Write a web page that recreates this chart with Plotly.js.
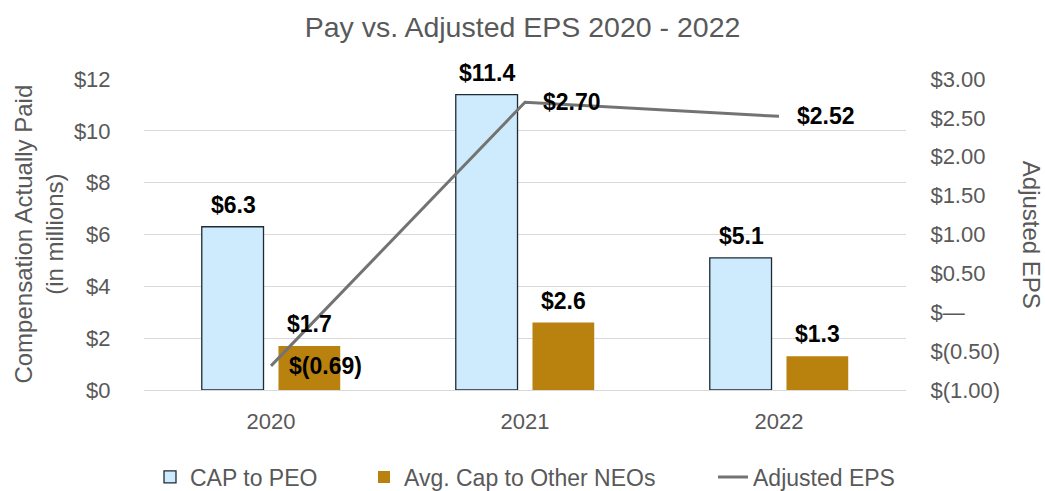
<!DOCTYPE html>
<html>
<head>
<meta charset="utf-8">
<script src="https://cdn.plot.ly/plotly-3.0.1.min.js"></script>
<style>html,body{margin:0;padding:0;background:#fff;}#chart{width:1045px;height:491px;}</style>
</head>
<body>
<div id="chart"></div>
<script>
const years = ["2020", "2021", "2022"];
const capToPEO = [6.3, 11.4, 5.1];
const avgCapOtherNEOs = [1.7, 2.6, 1.3];
const adjustedEPS = [-0.69, 2.70, 2.52];
const leftTickVals = [0, 2, 4, 6, 8, 10, 12];
const leftTickText = ["$0", "$2", "$4", "$6", "$8", "$10", "$12"];
const rightTickVals = [-1, -0.5, 0, 0.5, 1, 1.5, 2, 2.5, 3];
const rightTickText = ["$(1.00)", "$(0.50)", "$—", "$0.50", "$1.00", "$1.50", "$2.00", "$2.50", "$3.00"];

const FONT = "Liberation Sans, Arial, sans-serif";
const GRAY = "#595959";

function money1(v) { return "$" + v.toFixed(1); }
function moneyEPS(v) { return v < 0 ? "$(" + Math.abs(v).toFixed(2) + ")" : "$" + v.toFixed(2); }

const traces = [
  {
    type: "bar", name: "CAP to PEO", x: years, y: capToPEO, legend: "legend",
    marker: {color: "#CDEBFC", line: {color: "#1e2a36", width: 1.3}},
    hoverinfo: "skip"
  },
  {
    type: "bar", name: "Avg. Cap to Other NEOs", x: years, y: avgCapOtherNEOs, legend: "legend2",
    marker: {color: "#B9820F", line: {width: 0}},
    hoverinfo: "skip"
  },
  {
    type: "scatter", mode: "lines", name: "Adjusted EPS", x: years, y: adjustedEPS, legend: "legend3",
    yaxis: "y2", line: {color: "#737373", width: 3},
    hoverinfo: "skip"
  }
];

const annotations = [];
const labelFont = {family: FONT, size: 23, color: "#000"};
years.forEach((yr, i) => {
  annotations.push({x: i, y: capToPEO[i], xref: "x", yref: "y", text: "<b>" + money1(capToPEO[i]) + "</b>",
    showarrow: false, xshift: -38, yshift: 7, yanchor: "bottom", font: labelFont});
  annotations.push({x: i, y: avgCapOtherNEOs[i], xref: "x", yref: "y", text: "<b>" + money1(avgCapOtherNEOs[i]) + "</b>",
    showarrow: false, xshift: 38, yshift: 7, yanchor: "bottom", font: labelFont});
  annotations.push({x: i, y: adjustedEPS[i], xref: "x", yref: "y2", text: "<b>" + moneyEPS(adjustedEPS[i]) + "</b>",
    showarrow: false, xshift: 16, xanchor: "left", yanchor: "middle", font: labelFont});
});
annotations.push({xref: "paper", yref: "paper", x: -0.139, y: 0.5, xanchor: "center", yanchor: "middle",
  text: "Compensation Actually Paid<br>(in millions)", textangle: -90, showarrow: false,
  font: {family: FONT, size: 24, color: GRAY}});
annotations.push({xref: "paper", yref: "paper", x: 1.165, y: 0.5, xanchor: "center", yanchor: "middle",
  text: "Adjusted EPS", textangle: 90, showarrow: false,
  font: {family: FONT, size: 24, color: GRAY}});

function legendAt(px) {
  return {orientation: "h", xref: "paper", x: (px - 144) / 762, xanchor: "left",
    yref: "container", y: 1 - 477 / 491, yanchor: "middle",
    font: {family: FONT, size: 23, color: GRAY}, itemwidth: 30, bgcolor: "rgba(0,0,0,0)"};
}

const layout = {
  width: 1045, height: 491,
  margin: {l: 144, r: 139, t: 79, b: 101},
  paper_bgcolor: "#fff", plot_bgcolor: "#fff",
  font: {family: FONT, color: GRAY, size: 22},
  title: {text: "Pay vs. Adjusted EPS 2020 - 2022", x: 0.5, xanchor: "center", y: 0.945, yanchor: "middle",
    font: {family: FONT, size: 28.5, color: GRAY}},
  barmode: "group", bargap: 0.396, bargroupgap: 0.195,
  xaxis: {type: "category", range: [-0.5, 2.5], showgrid: false, showline: false, zeroline: false,
    ticks: "outside", ticklen: 12, tickcolor: "rgba(0,0,0,0)", tickfont: {size: 22, color: GRAY}},
  yaxis: {range: [0, 12], tickvals: leftTickVals, ticktext: leftTickText, showgrid: true, gridcolor: "#d9d9d9", gridwidth: 1,
    zeroline: true, zerolinecolor: "#d9d9d9", zerolinewidth: 1, showline: false,
    ticks: "outside", ticklen: 28, tickcolor: "rgba(0,0,0,0)", tickfont: {size: 22, color: GRAY}},
  yaxis2: {range: [-1, 3], overlaying: "y", side: "right", tickvals: rightTickVals, ticktext: rightTickText,
    showgrid: false, zeroline: false, showline: false,
    ticks: "outside", ticklen: 19, tickcolor: "rgba(0,0,0,0)", tickfont: {size: 22, color: GRAY}},
  legend: legendAt(150),
  legend2: legendAt(364),
  legend3: legendAt(713),
  annotations: annotations,
  showlegend: true
};

Plotly.newPlot("chart", traces, layout, {displayModeBar: false, staticPlot: true});
</script>
</body>
</html>
